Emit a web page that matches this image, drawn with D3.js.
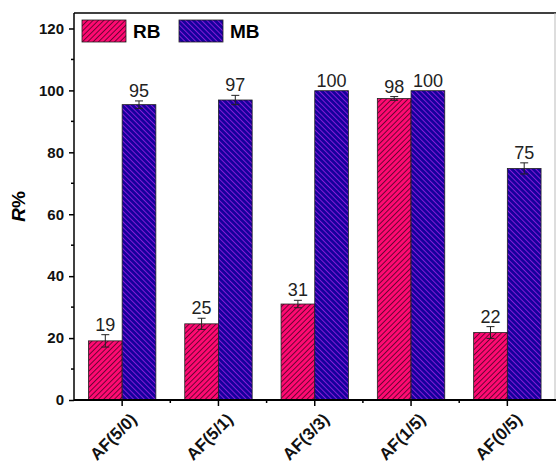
<!DOCTYPE html>
<html>
<head>
<meta charset="utf-8">
<style>
  body { margin: 0; background: #fff; }
  svg { display: block; font-family: Arial, "Liberation Sans", sans-serif; }
</style>
</head>
<body>
<svg id="chart" width="556" height="463"></svg>
<script src="https://cdn.jsdelivr.net/npm/d3@7"></script>
<script>
// data
const categories = ["AF(5/0)", "AF(5/1)", "AF(3/3)", "AF(1/5)", "AF(0/5)"];
const seriesNames = ["RB", "MB"];
const rbValues = [19.1, 24.6, 31.0, 97.4, 21.8];
const mbValues = [95.4, 96.9, 99.9, 99.9, 74.8];
const rbErrors = [2.0, 1.8, 1.2, 0.6, 1.9];
const mbErrors = [1.2, 1.5, 0, 0, 1.8];
const rbLabels = ["19", "25", "31", "98", "22"];
const mbLabels = ["95", "97", "100", "100", "75"];
const yTicks = [0, 20, 40, 60, 80, 100, 120];

const svg = d3.select("#chart");
const margin = {left: 74, right: 0, top: 13, bottom: 63};
const width = 556, height = 463;

const x = d3.scaleBand()
    .domain(categories)
    .range([margin.left, width - 0.5])
    .paddingInner(0.3)
    .paddingOuter(0.15);

const xSub = d3.scaleBand()
    .domain(seriesNames)
    .range([0, x.bandwidth()]);

const y = d3.scaleLinear()
    .domain([0, 125])
    .range([height - margin.bottom, margin.top]);

// patterns
const defs = svg.append("defs");
const hs = 3.8;
const pRB = defs.append("pattern")
    .attr("id", "hatchRB")
    .attr("patternUnits", "userSpaceOnUse")
    .attr("width", hs).attr("height", hs)
    .attr("patternTransform", "rotate(45)");
pRB.append("rect").attr("width", hs).attr("height", hs).attr("fill", "#ff0a72");
pRB.append("line").attr("x1", 0.5).attr("y1", 0).attr("x2", 0.5).attr("y2", hs)
    .attr("stroke", "#300018").attr("stroke-width", 0.7);

const pMB = defs.append("pattern")
    .attr("id", "hatchMB")
    .attr("patternUnits", "userSpaceOnUse")
    .attr("width", hs).attr("height", hs)
    .attr("patternTransform", "rotate(-45)");
pMB.append("rect").attr("width", hs).attr("height", hs).attr("fill", "#16009c");
pMB.append("line").attr("x1", 0.5).attr("y1", 0).attr("x2", 0.5).attr("y2", hs)
    .attr("stroke", "#a822ea").attr("stroke-width", 0.75);

const fills = {RB: "url(#hatchRB)", MB: "url(#hatchMB)"};

// frame
svg.append("line")
    .attr("x1", margin.left).attr("x2", width)
    .attr("y1", margin.top).attr("y2", margin.top)
    .attr("stroke", "#000").attr("stroke-width", 1.5);
svg.append("line")
    .attr("x1", width - 1).attr("x2", width - 1)
    .attr("y1", margin.top).attr("y2", height - margin.bottom)
    .attr("stroke", "#bbb").attr("stroke-width", 1);

// bars
const rows = categories.map((c, i) => ({
  cat: c,
  series: [
    {key: "RB", v: rbValues[i], e: rbErrors[i], label: rbLabels[i]},
    {key: "MB", v: mbValues[i], e: mbErrors[i], label: mbLabels[i]}
  ]
}));

const group = svg.append("g").selectAll("g")
    .data(rows)
    .join("g")
    .attr("transform", d => `translate(${x(d.cat)},0)`);

const items = group.selectAll("g")
    .data(d => d.series)
    .join("g");

items.append("rect")
    .attr("x", d => xSub(d.key))
    .attr("y", d => y(d.v))
    .attr("width", xSub.bandwidth())
    .attr("height", d => y(0) - y(d.v))
    .attr("fill", d => fills[d.key])
    .attr("stroke", "#222")
    .attr("stroke-width", 0.8);

// error bars
const eb = items.filter(d => d.e > 0);
eb.append("line")
    .attr("x1", d => xSub(d.key) + xSub.bandwidth() / 2)
    .attr("x2", d => xSub(d.key) + xSub.bandwidth() / 2)
    .attr("y1", d => y(d.v + d.e))
    .attr("y2", d => y(d.v - d.e))
    .attr("stroke", "#222").attr("stroke-width", 1);
[1, -1].forEach(s => {
  eb.append("line")
    .attr("x1", d => xSub(d.key) + xSub.bandwidth() / 2 - 4)
    .attr("x2", d => xSub(d.key) + xSub.bandwidth() / 2 + 4)
    .attr("y1", d => y(d.v + s * d.e))
    .attr("y2", d => y(d.v + s * d.e))
    .attr("stroke", "#222").attr("stroke-width", 1);
});

// value labels
items.append("text")
    .attr("x", d => xSub(d.key) + xSub.bandwidth() / 2)
    .attr("y", d => y(d.v + d.e) - 4)
    .attr("text-anchor", "middle")
    .attr("font-size", 18)
    .attr("fill", "#222")
    .text(d => d.label);

// y axis
const yAxis = svg.append("g")
    .attr("transform", `translate(${margin.left},0)`)
    .call(d3.axisLeft(y).tickValues(yTicks).tickSize(5).tickPadding(5).tickSizeOuter(0));
yAxis.select(".domain").attr("stroke-width", 1.5).attr("d", `M0,${y(0)}V${margin.top}`);
yAxis.selectAll(".tick line").attr("stroke-width", 1.5);
yAxis.selectAll("text").attr("font-size", 15).attr("font-weight", "bold").attr("fill", "#111");
svg.append("g")
    .attr("transform", `translate(${margin.left},0)`)
    .selectAll("line")
    .data(d3.range(10, 125, 20))
    .join("line")
    .attr("x1", -3).attr("x2", 0)
    .attr("y1", d => y(d)).attr("y2", d => y(d))
    .attr("stroke", "#000").attr("stroke-width", 1.5);

// x axis
const xAxis = svg.append("g")
    .attr("transform", `translate(0,${y(0)})`)
    .call(d3.axisBottom(x).tickSize(6).tickSizeOuter(0));
xAxis.select(".domain").attr("stroke-width", 1.8).attr("d", `M${margin.left},0H${width}`);
xAxis.selectAll(".tick line").attr("stroke-width", 1.5);
xAxis.selectAll("text")
    .attr("font-size", 17).attr("font-weight", "bold").attr("fill", "#111")
    .attr("text-anchor", "end")
    .attr("dy", "0.35em")
    .attr("transform", "translate(5,10) rotate(-45)");
const step = x.step();
svg.append("g").selectAll("line")
    .data(categories.slice(1))
    .join("line")
    .attr("x1", d => x(d) + x.bandwidth() / 2 - step / 2)
    .attr("x2", d => x(d) + x.bandwidth() / 2 - step / 2)
    .attr("y1", y(0)).attr("y2", y(0) + 3)
    .attr("stroke", "#000").attr("stroke-width", 1.5);

// y title
svg.append("text")
    .attr("transform", `translate(25,${(y(0) + margin.top) / 2}) rotate(-90)`)
    .attr("text-anchor", "middle")
    .attr("font-size", 19)
    .attr("font-weight", "bold")
    .call(t => {
      t.append("tspan").attr("font-style", "italic").text("R");
      t.append("tspan").text("%");
    });

// legend
const legend = svg.append("g").selectAll("g")
    .data(seriesNames)
    .join("g")
    .attr("transform", (d, i) => `translate(${82 + i * 97},20)`);
legend.append("rect")
    .attr("width", 44).attr("height", 22)
    .attr("fill", d => fills[d])
    .attr("stroke", "#222").attr("stroke-width", 0.8);
legend.append("text")
    .attr("x", 51).attr("y", 18)
    .attr("font-size", 19).attr("font-weight", "bold")
    .text(d => d);
</script>
</body>
</html>
